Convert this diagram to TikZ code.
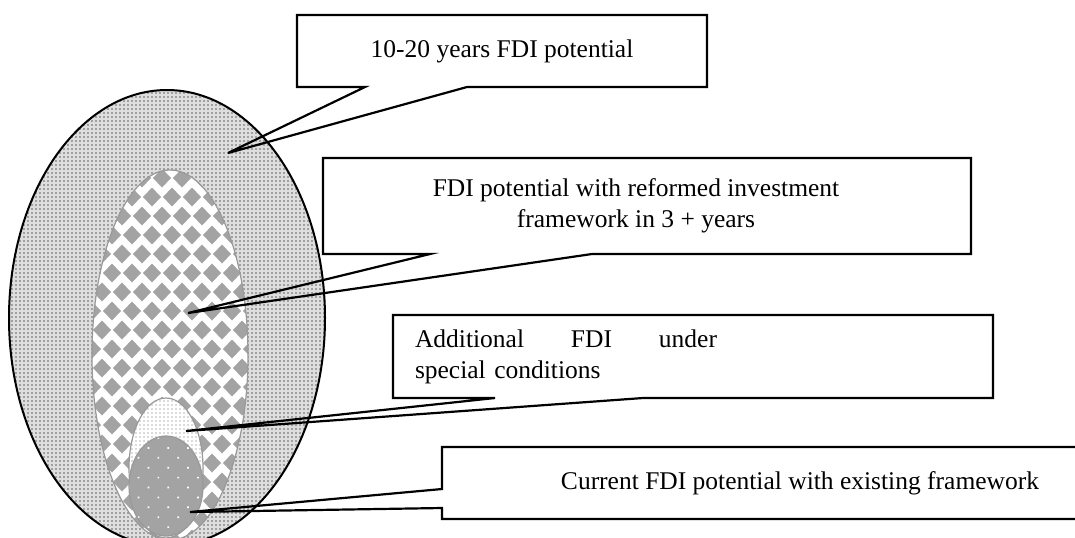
\documentclass[tikz,border=0pt]{standalone}
\usepackage{fontspec}
\setmainfont{Liberation Serif}
\usetikzlibrary{calc,patterns.meta}

\definecolor{tile}{gray}{0.64}
\definecolor{rim}{gray}{0.6}
\tikzset{
  bubble/.style={draw=none, outer sep=0pt, inner sep=0pt,
    font=\fontsize{12.75}{15.5}\selectfont},
  bubble line/.style={black, line width=1.1pt, line join=miter},
  rim line/.style={rim, line width=0.6pt}
}
% callout frame with its pointer on the lower edge
\newcommand{\speech}[4]{
  \draw[bubble line] (#1.south west) -- (#1.north west) -- (#1.north east)
    -- (#1.south east) -- ($(#1.south west)+(#3,0)$) -- (#4)
    -- ($(#1.south west)+(#2,0)$) -- cycle;
}

\begin{document}
\begin{tikzpicture}[x=0.5pt,y=-0.5pt]
\useasboundingbox (0,0) rectangle (1075,537);

% 10-20 years
\fill[black!13] (167,318) ellipse [x radius=158, y radius=228];
\fill[pattern={Dots[distance=2pt,radius=0.42pt]}, pattern color=black!62]
  (167,318) ellipse [x radius=158, y radius=228];
\draw[line width=1pt] (167,318) ellipse [x radius=158, y radius=228];

% reformed framework
\begin{scope}
  \clip (170,355) ellipse [x radius=78, y radius=185];
  \fill[white] (170,355) ellipse [x radius=78, y radius=185];
  \foreach \j in {0,...,20}{
    \foreach \i in {0,...,8}{
      \pgfmathsetmacro{\dx}{82+20*\i+10*mod(\j+1,2)}
      \pgfmathsetmacro{\dy}{159+19*\j}
      \fill[tile] (\dx,\dy-9.5) -- (\dx+9,\dy) -- (\dx,\dy+9.5) -- (\dx-9,\dy) -- cycle;
    }
  }
\end{scope}
\draw[rim line] (170,355) ellipse [x radius=78, y radius=185];

% special conditions
\fill[white] (166,468) ellipse [x radius=37, y radius=70];
\fill[pattern={Dots[distance=2pt,radius=0.45pt]}, pattern color=black!28]
  (166,468) ellipse [x radius=37, y radius=70];
\draw[rim line] (166,468) ellipse [x radius=37, y radius=70];

% existing framework
\fill[tile] (166,486) ellipse [x radius=37, y radius=50];
\fill[pattern={Dots[distance=7pt,angle=45,radius=0.6pt]}, pattern color=white]
  (166,486) ellipse [x radius=37, y radius=50];
\draw[rim line] (166,486) ellipse [x radius=37, y radius=50];

\node[bubble, minimum width=205pt, minimum height=36pt] (pot20) at (502,51)
  {10-20 years FDI potential};
\node[bubble, minimum width=324pt, minimum height=48pt, align=center] (reform) at (647,206)
  {FDI potential with reformed investment\hspace*{11pt}\\framework in 3 + years\hspace*{11pt}};
\node[bubble, minimum width=300pt, minimum height=41.5pt, text width=278pt,
  inner xsep=11pt, align=left] (special) at (693,356.5)
  {\makebox[151pt][l]{Additional\hfill FDI\hfill under}\\special conditions};
\node[bubble, minimum width=358pt, minimum height=36pt] (current) at (800,483)
  {Current FDI potential with existing framework};

\coordinate (tip20) at (228,153);
\coordinate (tipreform) at (188,313);
\coordinate (tipspecial) at (186,431);
\coordinate (tipcurrent) at (190,512);

\speech{pot20}{68}{170}{tip20}
\speech{reform}{107}{269}{tipreform}
\speech{special}{102}{250}{tipspecial}
\draw[bubble line] (current.north west) -- ($(current.north west)+(0,42)$)
  -- (tipcurrent) -- ($(current.north west)+(0,61)$) -- (current.south west)
  -- (current.south east) -- (current.north east) -- cycle;

\end{tikzpicture}
\end{document}
